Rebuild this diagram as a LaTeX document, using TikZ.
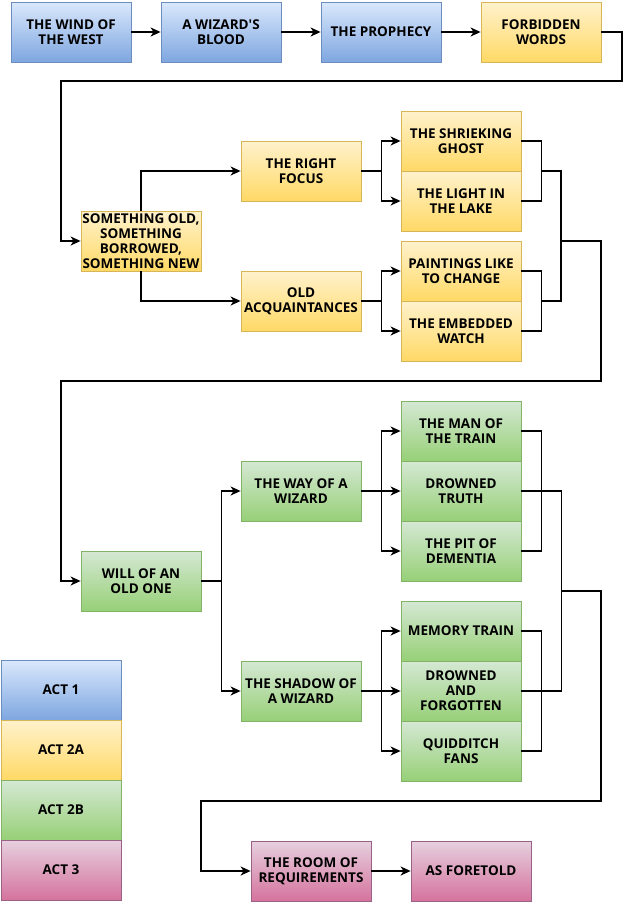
\documentclass[tikz,border=0pt]{standalone}
\usepackage{fontspec}
\setmainfont{Open Sans}[Ligatures=TeXOff]
\usepackage{tikz}
\usetikzlibrary{arrows.meta}

\definecolor{actone}{HTML}{DAE8FC}
\definecolor{actonedk}{HTML}{7EA6E0}
\definecolor{actoneln}{HTML}{6C8EBF}
\definecolor{acttwoa}{HTML}{FFF2CC}
\definecolor{acttwoadk}{HTML}{FFD966}
\definecolor{acttwoaln}{HTML}{D6B656}
\definecolor{acttwob}{HTML}{D5E8D4}
\definecolor{acttwobdk}{HTML}{97D077}
\definecolor{acttwobln}{HTML}{82B366}
\definecolor{actthree}{HTML}{E6D0DE}
\definecolor{actthreedk}{HTML}{D5739D}
\definecolor{actthreeln}{HTML}{996185}

\begin{document}
\begin{tikzpicture}[x=1pt, y=-1pt,
        box/.style={minimum width=120pt, minimum height=60pt, inner sep=0pt,
            align=center, font=\fontsize{13.5}{15}\selectfont\bfseries, line width=0.8pt},
        blue/.style={box, draw=actoneln, top color=actone, bottom color=actonedk},
        yellow/.style={box, draw=acttwoaln, top color=acttwoa, bottom color=acttwoadk},
        green/.style={box, draw=acttwobln, top color=acttwob, bottom color=acttwobdk},
        pink/.style={box, draw=actthreeln, top color=actthree, bottom color=actthreedk},
        link/.style={line width=1.6pt},
        arr/.style={link, -{Stealth[length=10pt, width=9pt, inset=3pt]}}]
        \useasboundingbox (0,0) rectangle (631,903);

        % act 1
        \node[blue] (wind) at (71,32) {THE WIND OF\\THE WEST};
        \node[blue] (blood) at (221,32) {A WIZARD'S\\BLOOD};
        \node[blue] (prophecy) at (381,32) {THE PROPHECY};
        \node[yellow] (words) at (541,32) {FORBIDDEN\\WORDS};
        \draw[arr] (wind) -- (blood);
        \draw[arr] (blood) -- (prophecy);
        \draw[arr] (prophecy) -- (words);

        % act 2a
        \node[yellow] (something) at (141,241) {SOMETHING OLD,\\SOMETHING\\BORROWED,\\SOMETHING NEW};
        \node[yellow] (focus) at (301,171) {THE RIGHT\\FOCUS};
        \node[yellow] (acquaint) at (301,301) {OLD\\ACQUAINTANCES};
        \node[yellow] (ghost) at (461,141) {THE SHRIEKING\\GHOST};
        \node[yellow] (lake) at (461,201) {THE LIGHT IN\\THE LAKE};
        \node[yellow] (paintings) at (461,271) {PAINTINGS LIKE\\TO CHANGE};
        \node[yellow] (watch) at (461,331) {THE EMBEDDED\\WATCH};
        \coordinate (focusjoin) at (541,171);
        \coordinate (acquaintjoin) at (541,301);
        \coordinate (twoaout) at (561,241);

        \draw[arr] (words.east) -- (622,32) -- (622,81) -- (61,81) |- (something.west);
        \draw[arr] (something.north) |- (focus.west);
        \draw[arr] (something.south) |- (acquaint.west);
        \draw[arr] (focus.east) -- ++(20,0) |- (ghost.west);
        \draw[arr] (focus.east) -- ++(20,0) |- (lake.west);
        \draw[arr] (acquaint.east) -- ++(20,0) |- (paintings.west);
        \draw[arr] (acquaint.east) -- ++(20,0) |- (watch.west);
        \draw[link] (ghost.east) -- ++(20,0) |- (lake.east);
        \draw[link] (paintings.east) -- ++(20,0) |- (watch.east);
        \draw[link] (focusjoin) -| (twoaout) |- (acquaintjoin);

        % act 2b
        \node[green] (will) at (141,581) {WILL OF AN\\OLD ONE};
        \node[green] (way) at (301,491) {THE WAY OF A\\WIZARD};
        \node[green] (shadow) at (301,691) {THE SHADOW OF\\A WIZARD};
        \node[green] (man) at (461,431) {THE MAN OF\\THE TRAIN};
        \node[green] (truth) at (461,491) {DROWNED\\TRUTH};
        \node[green] (pit) at (461,551) {THE PIT OF\\DEMENTIA};
        \node[green] (memory) at (461,631) {MEMORY TRAIN};
        \node[green] (forgotten) at (461,691) {DROWNED\\AND\\FORGOTTEN};
        \node[green] (fans) at (461,751) {QUIDDITCH\\FANS};
        \coordinate (twobout) at (561,591);

        \draw[arr] (twoaout) -- (601,241) -- (601,381) -- (61,381) |- (will.west);
        \draw[arr] (will.east) -- ++(20,0) |- (way.west);
        \draw[arr] (will.east) -- ++(20,0) |- (shadow.west);
        \draw[arr] (way.east) -- ++(20,0) |- (man.west);
        \draw[arr] (way.east) -- (truth.west);
        \draw[arr] (way.east) -- ++(20,0) |- (pit.west);
        \draw[arr] (shadow.east) -- ++(20,0) |- (memory.west);
        \draw[arr] (shadow.east) -- (forgotten.west);
        \draw[arr] (shadow.east) -- ++(20,0) |- (fans.west);
        \draw[link] (man.east) -- ++(20,0) |- (pit.east);
        \draw[link] (memory.east) -- ++(20,0) |- (fans.east);
        \draw[link] (truth.east) -- ++(40,0) |- (forgotten.east);

        % act 3
        \node[pink] (room) at (311,871) {THE ROOM OF\\REQUIREMENTS};
        \node[pink] (foretold) at (471,871) {AS FORETOLD};
        \draw[arr] (twobout) -- (601,591) -- (601,801) -- (201,801) |- (room.west);
        \draw[arr] (room) -- (foretold);

        % legend
        \node[blue] (legone) at (61,690) {ACT 1};
        \node[yellow] (legtwoa) at (61,750) {ACT 2A};
        \node[green] (legtwob) at (61,810) {ACT 2B};
        \node[pink] (legthree) at (61,870) {ACT 3};
\end{tikzpicture}
\end{document}
